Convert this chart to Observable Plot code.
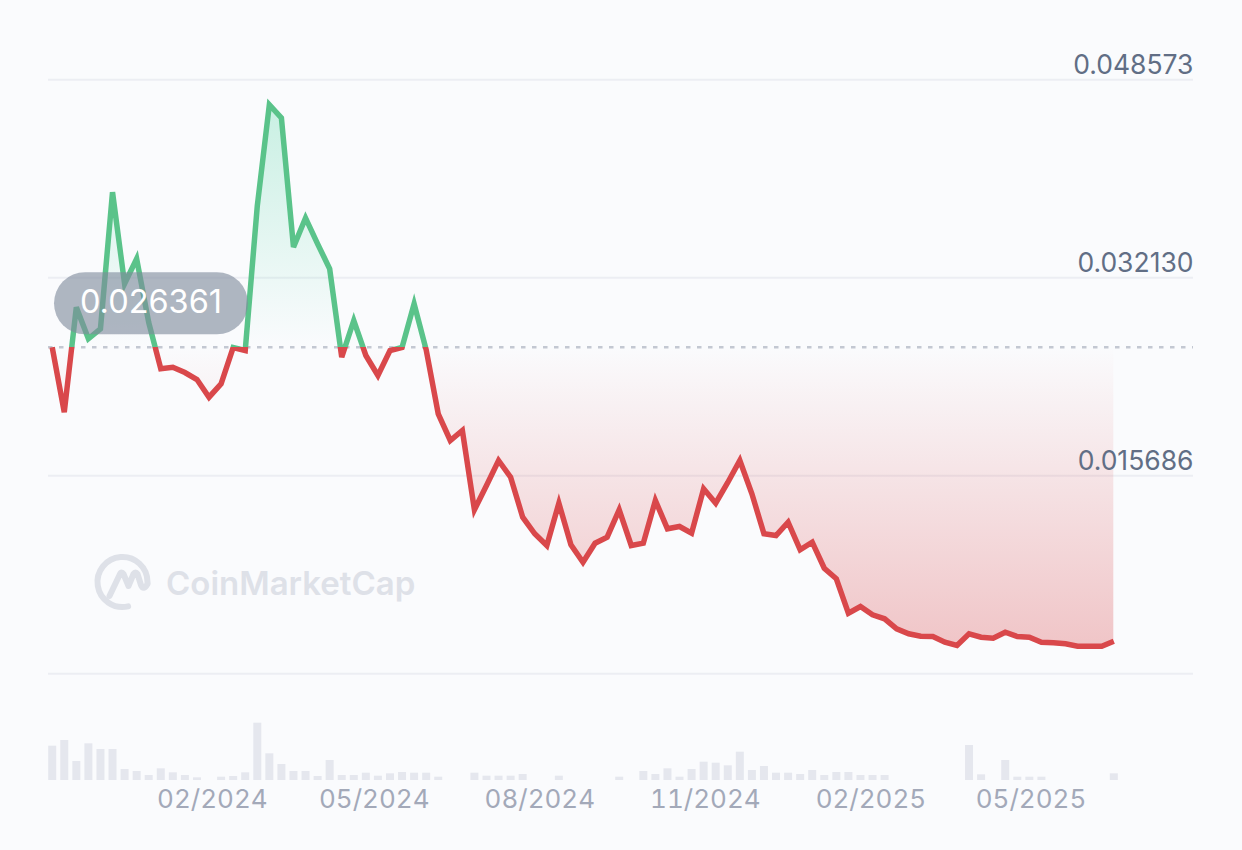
<!DOCTYPE html>
<html>
<head>
<meta charset="utf-8">
<script src="https://cdn.jsdelivr.net/npm/d3@7"></script>
<script src="https://cdn.jsdelivr.net/npm/@observablehq/plot@0.6"></script>
<style>
  html, body { margin: 0; padding: 0; background: #fafbfd; }
  #chart { position: relative; width: 1242px; height: 850px; background: #fafbfd; overflow: hidden; }
  #chart svg { position: absolute; left: 0; top: 0; }
</style>
</head>
<body>
<div id="chart"></div>
<script>
// ---- data ----
const price = [
  0.026361, 0.020968, 0.029688, 0.027064, 0.027894, 0.039239, 0.031632, 0.033708, 0.028418, 0.024573,
  0.024705, 0.024265, 0.023684, 0.022214, 0.023327, 0.026340, 0.026092, 0.038100, 0.046500, 0.045400,
  0.034680, 0.037100, 0.034954, 0.032877, 0.025536, 0.028584, 0.025677, 0.024016, 0.026092, 0.026350,
  0.029971, 0.026150, 0.020835, 0.018618, 0.019448, 0.012862, 0.014880, 0.016957, 0.015570, 0.012249,
  0.010869, 0.009898, 0.013411, 0.009956, 0.008511, 0.010089, 0.010587, 0.012862, 0.009898, 0.010089,
  0.013635, 0.011285, 0.011475, 0.010919, 0.014606, 0.013411, 0.015130, 0.016957, 0.014191, 0.010869,
  0.010728, 0.011833, 0.009541, 0.010172, 0.008012, 0.007132, 0.004275, 0.004831, 0.004142, 0.003810,
  0.002980, 0.002565, 0.002365, 0.002340, 0.001867, 0.001593, 0.002565, 0.002282, 0.002199, 0.002697,
  0.002340, 0.002282, 0.001867, 0.001817, 0.001734, 0.001535, 0.001535, 0.001535, 0.001950
];
const volume = [
  34.3, 40, 19, 36.7, 31, 31, 11, 9, 5, 11.7,
  7.7, 5, 2.7, 0, 3.3, 4, 7.7, 57.3, 26.7, 16,
  9, 9, 4, 20, 5, 5, 7.3, 4.3, 6.7, 8,
  7.3, 7.3, 3.3, 0, 0, 7.3, 4.3, 4.3, 4.3, 6,
  0, 0, 4.3, 0, 0, 0, 0, 3.3, 0, 9,
  6, 11.7, 3.3, 11, 18.3, 17.3, 14.7, 28.3, 10, 14,
  7.3, 7.3, 6, 10, 5, 8, 8, 5, 5, 5,
  0, 0, 0, 0, 0, 0, 35, 5.7, 0, 20,
  3.3, 3.3, 3.3, 0, 0, 0, 0, 0, 6.7
];
const firstDate = "2023-11-04";
const lastDate = "2025-06-16";
const xTickDates = ["2024-02-01", "2024-05-01", "2024-08-01", "2024-11-01", "2025-02-01", "2025-05-01"];
const yTickValues = [0.048573, 0.032130, 0.015686];
const yFloor = -0.000757;
const baseline = 0.026361;
const watermark = "CoinMarketCap";

// ---- build table ----
const d0 = new Date(firstDate), d1 = new Date(lastDate);
const step = (d1 - d0) / (price.length - 1);
const rows = price.map((p, i) => ({date: new Date(+d0 + i * step), price: p, volume: volume[i]}));
const xTicks = xTickDates.map(s => new Date(s));

const GREEN = "#5ac38a", RED = "#d9484b";
const FONT = "Inter, 'Noto Sans', sans-serif";
const xOpts = {type: "utc", domain: [d0, d1], range: [51.7, 1113.3], axis: null};

const pricePlot = Plot.plot({
  width: 1242, height: 850,
  marginLeft: 48, marginRight: 49, marginTop: 0, marginBottom: 0,
  style: {background: "transparent", fontFamily: FONT, overflow: "visible"},
  x: xOpts,
  y: {domain: [yFloor, yTickValues[0]], range: [673.3, 79.3], axis: null},
  marks: [
    Plot.ruleY([...yTickValues, yFloor], {stroke: "#eceef3", strokeWidth: 2}),
    Plot.areaY(rows, {x: "date", y1: () => baseline, y2: "price", fill: "url(#areaGrad)"}),
    Plot.ruleY([baseline], {stroke: "#c3c8d2", strokeWidth: 2.5, strokeDasharray: "4.5,6.5"}),
    Plot.line(rows, {x: "date", y: "price", stroke: "url(#lineGrad)", strokeWidth: 5.5,
      strokeLinejoin: "miter", strokeMiterlimit: 4, strokeLinecap: "butt"}),
    Plot.text(yTickValues, {y: d => d, text: d => d.toFixed(6), frameAnchor: "right", textAnchor: "end",
      dy: -14, fontSize: 26.5, fill: "#616e85"})
  ]
});

const volPlot = Plot.plot({
  width: 1242, height: 850,
  marginLeft: 48, marginRight: 49, marginTop: 0, marginBottom: 70,
  style: {background: "transparent", fontFamily: FONT, overflow: "visible"},
  x: xOpts,
  y: {domain: [0, d3.max(volume)], range: [780, 780 - 57.3], axis: null},
  marks: [
    Plot.ruleX(rows.filter(d => d.volume > 0), {x: "date", y1: 0, y2: "volume", stroke: "#e5e7ee", strokeWidth: 8}),
    Plot.axisX(xTicks, {tickSize: 0, tickPadding: 9, tickFormat: d3.utcFormat("%m/%Y"), fontSize: 26,
      fill: "#a3a9b9", label: null})
  ]
});

const chart = document.getElementById("chart");
chart.appendChild(volPlot);
chart.appendChild(pricePlot);

// ---- gradients & annotations positioned through the plot's own scales ----
const NS = "http://www.w3.org/2000/svg";
const el = (tag, attrs, parent) => {
  const e = document.createElementNS(NS, tag);
  for (const k in attrs) e.setAttribute(k, attrs[k]);
  if (parent) parent.appendChild(e);
  return e;
};
const ys = pricePlot.scale("y");
const yTop = ys.apply(yTickValues[0]);
const yBot = ys.apply(yFloor);
const yB = ys.apply(baseline);
const ob = (yB - yTop) / (yBot - yTop);

const defs = el("defs", {});
pricePlot.insertBefore(defs, pricePlot.firstChild);
const ag = el("linearGradient", {id: "areaGrad", gradientUnits: "userSpaceOnUse", x1: 0, x2: 0, y1: yTop, y2: yBot}, defs);
el("stop", {offset: 0, "stop-color": "#16c784", "stop-opacity": 0.24}, ag);
el("stop", {offset: ob, "stop-color": "#16c784", "stop-opacity": 0}, ag);
el("stop", {offset: ob, "stop-color": "#d9484b", "stop-opacity": 0}, ag);
el("stop", {offset: 1, "stop-color": "#d9484b", "stop-opacity": 0.33}, ag);
const lg = el("linearGradient", {id: "lineGrad", gradientUnits: "userSpaceOnUse", x1: 0, x2: 0, y1: yTop, y2: yBot}, defs);
el("stop", {offset: 0, "stop-color": GREEN}, lg);
el("stop", {offset: ob, "stop-color": GREEN}, lg);
el("stop", {offset: ob, "stop-color": RED}, lg);
el("stop", {offset: 1, "stop-color": RED}, lg);

// watermark (behind the line)
const wm = el("g", {});
pricePlot.insertBefore(wm, defs.nextSibling);
const logo = el("g", {fill: "none", stroke: "#dee1e8", "stroke-width": 6, "stroke-linecap": "round", "stroke-linejoin": "round"}, wm);
const cx = 122.5, cy = 582, r = 25;
const a0 = 0, a1 = 77 * Math.PI / 180;
el("path", {d: `M${cx + r * Math.cos(a0)},${cy + r * Math.sin(a0)} A${r},${r} 0 1 0 ${cx + r * Math.cos(a1)},${cy + r * Math.sin(a1)}`}, logo);
el("path", {d: `M109.5,596 L120,574 Q121.5,571 123.5,574 L128.5,586 L133.5,574 Q135.5,571 137.5,574 L141,585 Q143.5,591 147.5,584`}, logo);
const wt = el("text", {x: 166, y: 595, fill: "#dee1e8", "font-size": 33, "font-weight": 600,
  "text-anchor": "start", "font-family": FONT}, wm);
wt.textContent = watermark;

// baseline value pill
const pill = el("g", {}, pricePlot);
el("rect", {x: 54, y: yB - 74.5, width: 194, height: 62, rx: 31, fill: "rgba(128,138,157,0.62)"}, pill);
const pt = el("text", {x: 151, y: yB - 34, "text-anchor": "middle", fill: "#ffffff", "font-size": 32.5,
  "font-family": FONT}, pill);
pt.textContent = baseline.toFixed(6);
</script>
</body>
</html>
